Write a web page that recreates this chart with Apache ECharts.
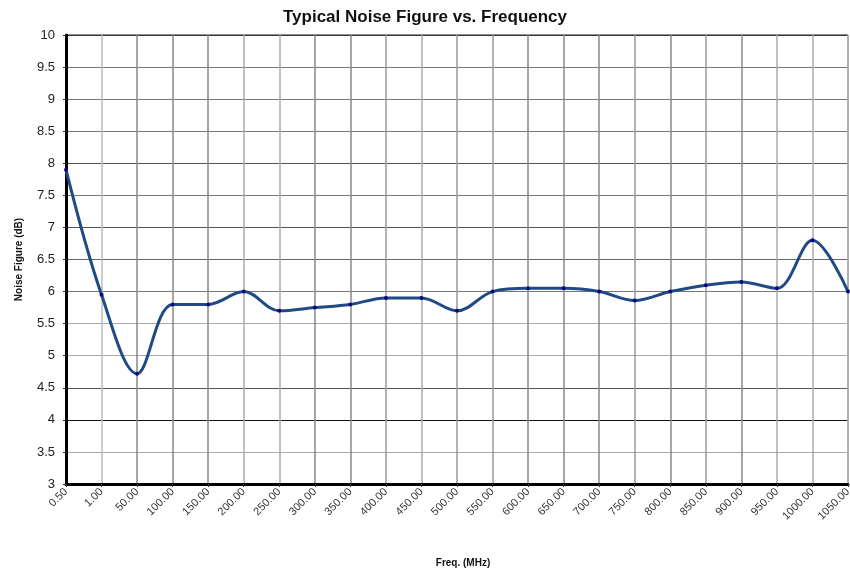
<!DOCTYPE html>
<html>
<head>
<meta charset="utf-8">
<title>Typical Noise Figure vs. Frequency</title>
<script src="https://cdn.jsdelivr.net/npm/echarts@6/dist/echarts.min.js"></script>
<style>
  html, body { margin: 0; padding: 0; background: #fff; }
  #chart { width: 850px; height: 573px; }
</style>
</head>
<body>
<div id="chart"></div>
<script>
// frequency categories (MHz), as printed on the x axis
const freqLabels = ['0.50', '1.00', '50.00', '100.00', '150.00', '200.00', '250.00', '300.00',
  '350.00', '400.00', '450.00', '500.00', '550.00', '600.00', '650.00', '700.00', '750.00',
  '800.00', '850.00', '900.00', '950.00', '1000.00', '1050.00'];

// noise figure (dB)
const noiseFigure = [7.9, 5.95, 4.72, 5.8, 5.8, 6.0, 5.7, 5.75, 5.8, 5.9, 5.9, 5.7, 6.0,
  6.05, 6.05, 6.0, 5.86, 6.0, 6.1, 6.15, 6.05, 6.8, 6.0];

// y axis range
const yMin = 3;
const yMax = 10;
const yStep = 0.5;

let chartDom = document.getElementById('chart');
let myChart = echarts.init(chartDom);
let option;

option = {
  animation: false,
  title: {
    text: 'Typical Noise Figure vs. Frequency',
    left: 'center',
    top: 4,
    textStyle: {
      fontFamily: 'Liberation Sans',
      fontWeight: 'bold',
      fontSize: 17,
      color: '#111'
    }
  },
  grid: {
    // plot area position (labels may sit outside it)
    left: 66,
    right: 2,
    top: 35,
    bottom: 89,
    outerBoundsMode: 'none',
    containLabel: false,
    show: true,
    borderColor: '#222',
    borderWidth: 1
  },
  xAxis: {
    type: 'category',
    data: freqLabels,
    boundaryGap: false,
    name: 'Freq. (MHz)',
    nameLocation: 'middle',
    nameGap: 74,
    nameTextStyle: {
      fontFamily: 'Liberation Sans',
      fontWeight: 'bold',
      fontSize: 10,
      color: '#111',
      padding: [0, 0, 0, 12]
    },
    axisLine: { lineStyle: { color: '#000', width: 3 } },
    axisTick: { show: true, length: 3, lineStyle: { color: '#333' } },
    axisLabel: {
      rotate: 45,
      fontFamily: 'Liberation Sans',
      fontSize: 11,
      color: '#333',
      margin: 6
    },
    splitLine: {
      show: true,
      lineStyle: {
        color: ['#bbb', '#bbb', '#888', '#888', '#888', '#aaa', '#aaa', '#888', '#888',
          '#999', '#aaa', '#999', '#999', '#888', '#888', '#888', '#999', '#888', '#999',
          '#888', '#aaa', '#aaa', '#bbb'],
        width: 1.5
      }
    }
  },
  yAxis: {
    type: 'value',
    min: yMin,
    max: yMax,
    interval: yStep,
    name: 'Noise Figure (dB)',
    nameLocation: 'middle',
    nameGap: 42,
    nameTextStyle: {
      fontFamily: 'Liberation Sans',
      fontWeight: 'bold',
      fontSize: 10,
      color: '#111'
    },
    axisLine: { show: true, lineStyle: { color: '#000', width: 3 } },
    axisTick: { show: true, length: 3, lineStyle: { color: '#333' } },
    axisLabel: {
      fontFamily: 'Liberation Sans',
      fontSize: 13,
      color: '#222',
      margin: 11
    },
    splitLine: {
      show: true,
      lineStyle: {
        color: ['#999', '#aaa', '#111', '#555', '#aaa', '#aaa', '#777', '#666', '#555',
          '#777', '#555', '#777', '#777', '#777', '#333'],
        width: 1
      }
    }
  },
  series: [
    {
      name: 'Noise Figure',
      type: 'line',
      data: noiseFigure,
      smooth: 0.35,
      symbol: 'circle',
      symbolSize: 4,
      itemStyle: { color: '#0a0a80' },
      lineStyle: { color: '#1f4a85', width: 3 },
      z: 5
    }
  ]
};

option && myChart.setOption(option);
</script>
</body>
</html>
